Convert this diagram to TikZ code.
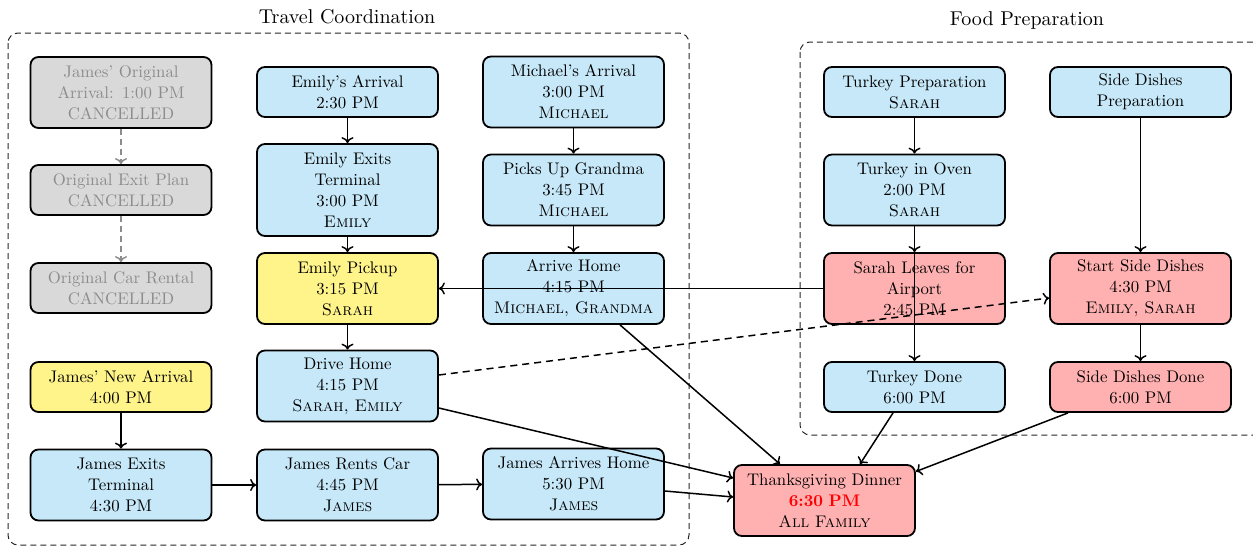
\documentclass[tikz,border=0pt]{standalone}
\usepackage{fontspec}
\setmainfont{lmroman10-regular.otf}[BoldFont=lmroman10-bold.otf, SmallCapsFont=lmromancaps10-regular.otf]
\usetikzlibrary{arrows.meta,calc}
\definecolor{boxblue}{HTML}{C6E8F8}
\definecolor{boxred}{HTML}{FFB1B1}
\definecolor{boxyellow}{HTML}{FFF48A}
\definecolor{boxgray}{HTML}{D9D9D9}
\definecolor{txtgray}{HTML}{8C8C8C}
\definecolor{edgegray}{HTML}{8C8C8C}
\begin{document}
\begin{tikzpicture}[x=1pt,y=-1pt,
  every node/.style={font=\fontsize{16.8}{21}\selectfont},
  task/.style={draw=black, line width=1.8pt, rounded corners=8pt, align=center,
    minimum width=181pt, text width=178pt, inner sep=1.5pt},
  bluebox/.style={task, fill=boxblue},
  redbox/.style={task, fill=boxred},
  yellowbox/.style={task, fill=boxyellow},
  graybox/.style={task, fill=boxgray, text=txtgray},
  h2/.style={minimum height=50pt},
  h3/.style={minimum height=71pt},
  h4/.style={minimum height=92pt},
  group/.style={draw=black!85, line width=1pt, dash pattern=on 6pt off 4pt, rounded corners=10pt},
  grouptitle/.style={font=\fontsize{20}{24}\selectfont},
  flow/.style={line width=1.5pt, -{To[length=6pt,width=12pt]}},
  dflow/.style={flow, dash pattern=on 7pt off 5pt},
  gflow/.style={line width=1.5pt, draw=edgegray, dash pattern=on 6pt off 4pt, -{To[length=6pt,width=12pt]}}
]
\useasboundingbox (0,0) rectangle (1253,546);

% groups
\draw[group] (8,33) rectangle (689,545);
\node[grouptitle] (tctitle) at (347,17) {Travel Coordination};
\draw[group] (800,42) rectangle (1265,435);
\node[grouptitle] (fptitle) at (1027,20) {Food Preparation};

% column 1
\node[graybox,h3] (jorig) at (121,92.5) {James' Original\\Arrival: 1:00 PM\\CANCELLED};
\node[graybox,h2] (oexit) at (121,190) {Original Exit Plan\\CANCELLED};
\node[graybox,h2] (ocar) at (121,288) {Original Car Rental\\CANCELLED};
\node[yellowbox,h2] (jnew) at (121,387) {James' New Arrival\\4:00 PM};
\node[bluebox,h3] (jexit) at (121,485) {James Exits\\Terminal\\4:30 PM};

% column 2
\node[bluebox,h2] (earr) at (347.5,92) {Emily's Arrival\\2:30 PM};
\node[bluebox,h4] (eexit) at (347.5,190) {Emily Exits\\Terminal\\3:00 PM\\\textsc{Emily}};
\node[yellowbox,h3] (epick) at (347.5,288.5) {Emily Pickup\\3:15 PM\\\textsc{Sarah}};
\node[bluebox,h3] (drive) at (347.5,386) {Drive Home\\4:15 PM\\\textsc{Sarah, Emily}};
\node[bluebox,h3] (jrent) at (347.5,485) {James Rents Car\\4:45 PM\\\textsc{James}};

% column 3
\node[bluebox,h3] (marr) at (573.5,92) {Michael's Arrival\\3:00 PM\\\textsc{Michael}};
\node[bluebox,h3] (pick) at (573.5,190) {Picks Up Grandma\\3:45 PM\\\textsc{Michael}};
\node[bluebox,h3] (ahome) at (573.5,288.5) {Arrive Home\\4:15 PM\\\textsc{Michael, Grandma}};
\node[bluebox,h3] (jah) at (573.5,484) {James Arrives Home\\5:30 PM\\\textsc{James}};

% dinner
\node[redbox,h3,minimum width=179pt] (dinner) at (824.5,500.5) {Thanksgiving Dinner\\{\color{red}\bfseries 6:30 PM}\\\textsc{All Family}};

% column 4
\node[bluebox,h2] (tprep) at (914.5,92) {Turkey Preparation\\\textsc{Sarah}};
\node[bluebox,h3] (toven) at (914.5,190) {Turkey in Oven\\2:00 PM\\\textsc{Sarah}};
\node[redbox,h3] (sleave) at (914.5,288.5) {Sarah Leaves for\\Airport\\2:45 PM};
\node[bluebox,h2] (tdone) at (914.5,387) {Turkey Done\\6:00 PM};

% column 5
\node[bluebox,h2] (sprep) at (1140.5,92) {Side Dishes\\Preparation};
\node[redbox,h3] (sstart) at (1140.5,288.5) {Start Side Dishes\\4:30 PM\\\textsc{Emily, Sarah}};
\node[redbox,h2] (sdone) at (1140.5,387) {Side Dishes Done\\6:00 PM};

% cancelled chain
\draw[gflow] (jorig) -- (oexit);
\draw[gflow] (oexit) -- (ocar);

% James chain
\draw[flow] (jnew) -- (jexit);
\draw[flow] (jexit) -- (jrent);
\draw[flow] (jrent) -- (jah);
\draw[flow] ([yshift=-7pt]jah.east) -- ([yshift=3.5pt]dinner.west);

% Emily chain
\draw[flow] (earr) -- (eexit);
\draw[flow] (eexit) -- (epick);
\draw[flow] (epick) -- (drive);
\draw[dflow] ([yshift=11pt]drive.east) -- ([yshift=-9.5pt]sstart.west);
\draw[flow] ([yshift=-22pt]drive.east) -- ([yshift=22.5pt]dinner.west);

% Michael chain
\draw[flow] (marr) -- (pick);
\draw[flow] (pick) -- (ahome);
\draw[flow] ([xshift=46.5pt]ahome.south) -- ([xshift=-44.5pt]dinner.north);

% Turkey chain
\draw[flow] (tprep) -- (toven);
\draw[flow] (toven) -- (sleave);
\draw[flow] (toven.south) -- (tdone.north);
\draw[flow] (sleave.west) -- (epick.east);
\draw[flow] ([xshift=-21.5pt]tdone.south) -- ([xshift=35.5pt]dinner.north);

% Side dishes chain
\draw[flow] (sprep) -- (sstart);
\draw[flow] (sstart) -- (sdone);
\draw[flow] ([xshift=-72.5pt]sdone.south) -- ([yshift=29pt]dinner.east);
\end{tikzpicture}
\end{document}
